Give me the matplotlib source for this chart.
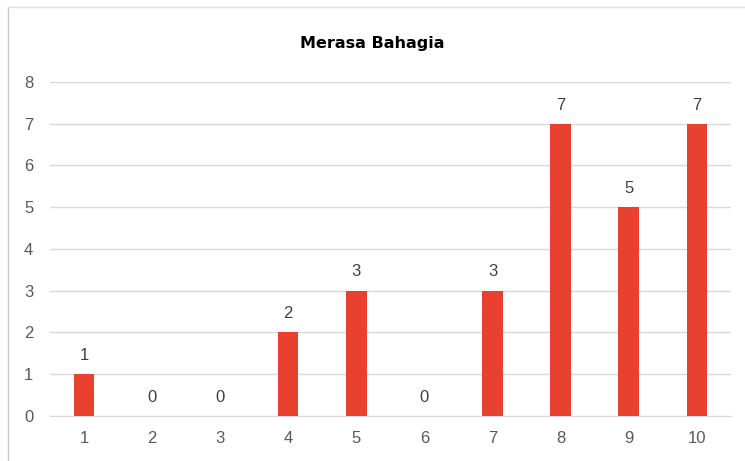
import matplotlib.pyplot as plt
from matplotlib.lines import Line2D

# Data
categories = ['1', '2', '3', '4', '5', '6', '7', '8', '9', '10']
values = [1, 0, 0, 2, 3, 0, 3, 7, 5, 7]

fig = plt.figure(figsize=(7.45, 4.61), dpi=100)
ax = fig.add_axes([0.067, 0.098, 0.914, 0.724])

bar_color = '#E8412F'
x = range(len(categories))
bars = ax.bar(x, values, width=0.3, color=bar_color, zorder=3)

# Value labels above bars
for xi, v in zip(x, values):
    ax.text(xi, v + 0.27, str(v), ha='center', va='bottom',
            fontsize=12, color='#404040', family='Liberation Sans')

ax.set_xlim(-0.5, len(categories) - 0.5)
ax.set_ylim(0, 8)
ax.set_yticks(range(0, 9))
ax.set_xticks(list(x))
ax.set_xticklabels(categories)
ax.grid(axis='y', color='#D9D9D9', linewidth=1, zorder=0)
for s in ['top', 'right', 'left']:
    ax.spines[s].set_visible(False)
ax.spines['bottom'].set_color('#D9D9D9')
ax.tick_params(axis='x', length=0, labelsize=12, labelcolor='#595959', pad=11)
ax.tick_params(axis='y', length=0, labelsize=12, labelcolor='#595959', pad=12)
for lab in ax.get_xticklabels() + ax.get_yticklabels():
    lab.set_family('Liberation Sans')

fig.text(0.5, 0.905, 'Merasa Bahagia', ha='center', va='center',
         fontsize=11.5, fontweight='heavy', family='DejaVu Sans', color='black')

# Spreadsheet border lines behind the chart
fig.add_artist(Line2D([0.011, 0.011], [0, 0.985], color='#C8C8C8', linewidth=1))
fig.add_artist(Line2D([0.011, 1], [0.985, 0.985], color='#E0E0E0', linewidth=1))

fig.savefig('out.png', dpi=100)
